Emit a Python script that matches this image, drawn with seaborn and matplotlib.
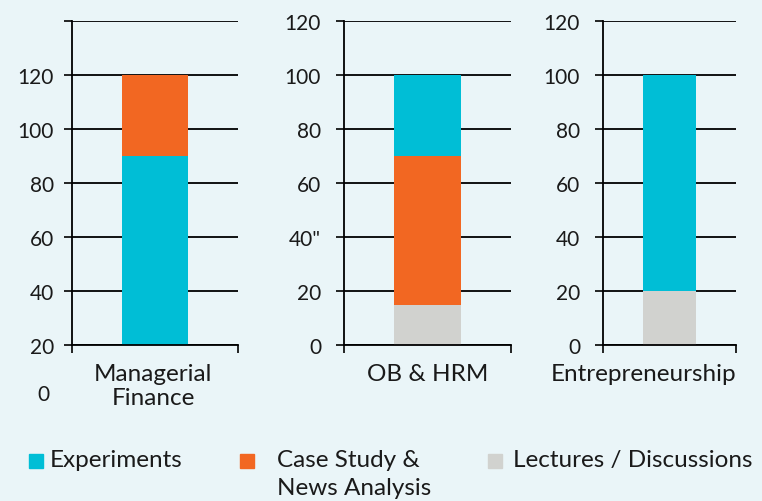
import matplotlib
matplotlib.use("Agg")
import matplotlib.pyplot as plt
from matplotlib.patches import Rectangle
from matplotlib.transforms import ScaledTranslation
import seaborn as sns

# data
courses = ["Managerial\nFinance", "OB & HRM", "Entrepreneurship"]
experiments = [70, 30, 80]
case_study = [30, 55, 0]
lectures = [0, 15, 20]

# stacking order (bottom -> top) differs per panel in the original
stack_order = [["Experiments", "Case Study"],
               ["Lectures", "Case Study", "Experiments"],
               ["Lectures", "Experiments"]]

ytick_values = [0, 20, 40, 60, 80, 100, 120]
ytick_labels = [["20", "40", "60", "80", "100", "120", ""],
                ["0", "20", '40"', "60", "80", "100", "120"],
                ["0", "20", "40", "60", "80", "100", "120"]]

colors = {"Experiments": "#00BED6", "Case Study": "#F26722", "Lectures": "#D1D2CF"}
values = {"Experiments": experiments, "Case Study": case_study, "Lectures": lectures}

bg = "#EAF5F8"
sns.set_theme(style="white")
plt.rcParams["font.family"] = ["Lato", "DejaVu Sans"]

W, H = 762, 502
fig = plt.figure(figsize=(W / 100, H / 100), dpi=100, facecolor=bg)

# panel boxes in pixels: left, right, top, bottom
boxes = [(72, 238, 22, 346), (344, 511, 22, 346), (603, 736, 22, 346)]
label_pads = [7.5, 11, 11]
# horizontal shift of the category label (px), the last one sits off-centre
label_shift = [-2, 0, -26]

for i, (l, r, t, b) in enumerate(boxes):
    ax = fig.add_axes([l / W, 1 - b / H, (r - l) / W, (b - t) / H])
    ax.set_facecolor(bg)

    # draw cumulative bars from top layer down so they stack
    order = stack_order[i]
    cum = []
    total = 0
    for name in order:
        total += values[name][i]
        cum.append(total)
    for name, height in reversed(list(zip(order, cum))):
        sns.barplot(x=[courses[i]], y=[height], color=colors[name], width=0.4,
                    saturation=1, linewidth=0, edgecolor="none", ax=ax, zorder=2)

    ax.set_xlim(-0.5, 0.5)
    ax.set_ylim(0, 120)
    ax.set_xlabel("")
    ax.set_ylabel("")

    ax.set_yticks(ytick_values)
    ax.set_yticklabels(ytick_labels[i])
    ax.yaxis.grid(True, color="black", linewidth=1.3, zorder=1)
    ax.set_axisbelow(True)
    ax.tick_params(axis="y", left=True, length=5.5, width=1.2, color="black",
                   pad=label_pads[i], labelsize=15, labelcolor="#1a1a1a")

    ax.set_xticks([0])
    ax.set_xticklabels([courses[i]])
    ax.set_xticks([-0.5, 0.5], minor=True)
    ax.tick_params(axis="x", which="major", length=0, pad=13, labelsize=17.5,
                   labelcolor="#1a1a1a")
    ax.tick_params(axis="x", which="minor", bottom=True, length=5.5, width=1.2,
                   color="black")
    for lbl in ax.get_xticklabels():
        lbl.set_linespacing(1.2)
        lbl.set_transform(lbl.get_transform() +
                          ScaledTranslation(label_shift[i] / 100, 0,
                                            fig.dpi_scale_trans))

    for side in ["top", "right"]:
        ax.spines[side].set_visible(False)
    for side in ["left", "bottom"]:
        ax.spines[side].set_visible(True)
        ax.spines[side].set_color("black")
        ax.spines[side].set_linewidth(1.3)

# stray "0" label under the first panel
fig.text(43 / W, 1 - 395 / H, "0", ha="center", va="center", fontsize=15,
         color="#1a1a1a")

# legend drawn by hand to match the uneven spacing
legend_items = [("Experiments", "Experiments", 29, 50),
                ("Case Study", "Case Study &\nNews Analysis", 240, 277),
                ("Lectures", "Lectures / Discussions", 488, 513)]
for key, text, mx, tx in legend_items:
    fig.add_artist(Rectangle((mx / W, 1 - 469 / H), 14 / W, 14 / H,
                             transform=fig.transFigure, color=colors[key]))
    fig.text(tx / W, 1 - 467 / H, text.split("\n")[0], ha="left", va="baseline",
             fontsize=17.5, color="#1a1a1a")
    if "\n" in text:
        fig.text(tx / W, 1 - 495 / H, text.split("\n")[1], ha="left",
                 va="baseline", fontsize=17.5, color="#1a1a1a")

fig.savefig("out.png", dpi=100, facecolor=bg)
